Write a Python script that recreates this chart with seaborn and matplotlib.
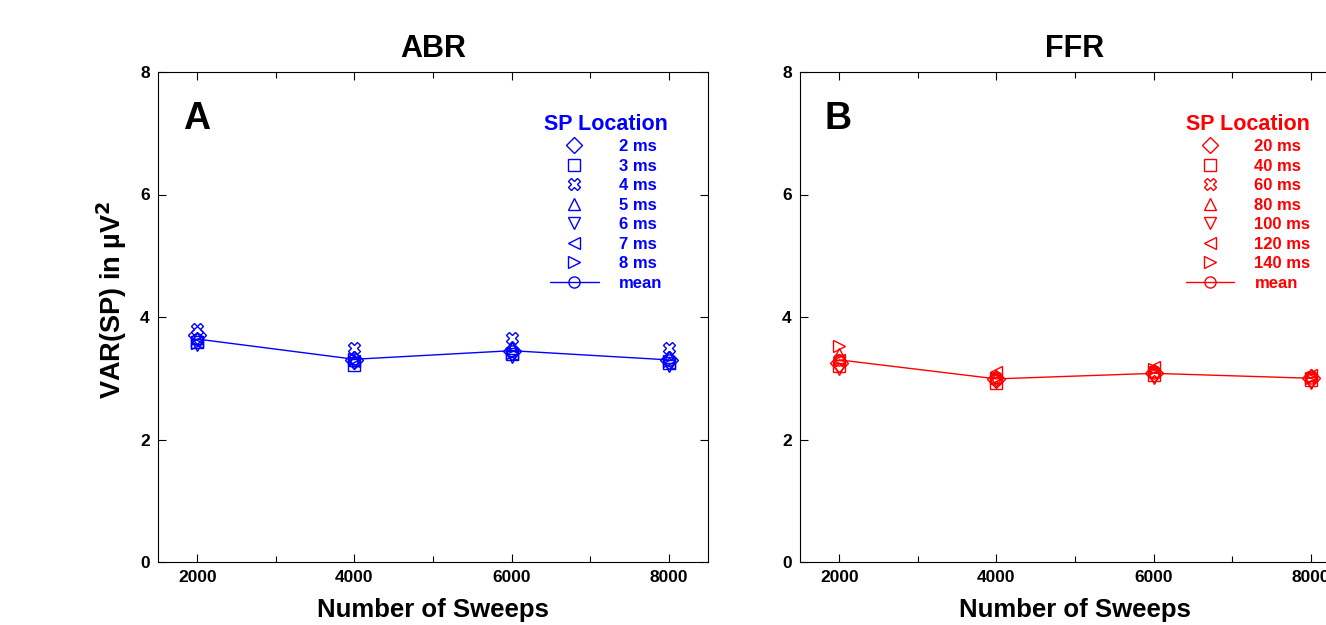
import matplotlib
matplotlib.use("Agg")
import matplotlib.pyplot as plt
from matplotlib.lines import Line2D
from matplotlib.ticker import FixedLocator
import seaborn as sns
import pandas as pd

sns.set_theme(style="white")
plt.rcParams['font.family'] = ['Liberation Sans', 'DejaVu Sans']
plt.rcParams['font.weight'] = 'bold'
for k in ['text.color', 'axes.labelcolor', 'xtick.color', 'ytick.color', 'axes.edgecolor']:
    plt.rcParams[k] = 'black'

sweeps = [2000, 4000, 6000, 8000]

abr_labels = ["2 ms", "3 ms", "4 ms", "5 ms", "6 ms", "7 ms", "8 ms"]
abr_2ms = [3.70, 3.30, 3.45, 3.30]
abr_3ms = [3.60, 3.22, 3.40, 3.25]
abr_4ms = [3.80, 3.50, 3.65, 3.50]
abr_5ms = [3.65, 3.30, 3.50, 3.35]
abr_6ms = [3.55, 3.25, 3.35, 3.20]
abr_7ms = [3.60, 3.28, 3.40, 3.25]
abr_8ms = [3.58, 3.32, 3.42, 3.28]
abr_mean = [3.64, 3.31, 3.45, 3.30]

ffr_labels = ["20 ms", "40 ms", "60 ms", "80 ms", "100 ms", "120 ms", "140 ms"]
ffr_20ms = [3.25, 2.98, 3.08, 3.00]
ffr_40ms = [3.20, 2.92, 3.05, 2.97]
ffr_60ms = [3.30, 3.00, 3.10, 3.02]
ffr_80ms = [3.40, 3.02, 3.12, 3.05]
ffr_100ms = [3.15, 2.95, 3.00, 2.93]
ffr_120ms = [3.30, 3.10, 3.18, 3.05]
ffr_140ms = [3.52, 3.00, 3.15, 3.00]
ffr_mean = [3.30, 2.99, 3.08, 3.00]

markers = ['D', 's', 'X', '^', 'v', '<', '>']
abr_series = [abr_2ms, abr_3ms, abr_4ms, abr_5ms, abr_6ms, abr_7ms, abr_8ms]
ffr_series = [ffr_20ms, ffr_40ms, ffr_60ms, ffr_80ms, ffr_100ms, ffr_120ms, ffr_140ms]

W, H = 1326, 625
fig = plt.figure(figsize=(W / 100, H / 100), dpi=100)
axA = fig.add_axes([158 / W, 1 - 562 / H, 550 / W, 490 / H])
axB = fig.add_axes([800 / W, 1 - 562 / H, 550 / W, 490 / H])


def panel(ax, series, labels, mean, color, title, letter):
    for vals, m, lab in zip(series, markers, labels):
        df = pd.DataFrame({"sweeps": sweeps, "var": vals})
        sns.lineplot(data=df, x="sweeps", y="var", ax=ax, marker=m, linestyle='none',
                     mfc='none', mec=color, mew=1.0, ms=9, color=color)
    dfm = pd.DataFrame({"sweeps": sweeps, "var": mean})
    sns.lineplot(data=dfm, x="sweeps", y="var", ax=ax, marker='o', mfc='none',
                 mec=color, mew=1.0, ms=8, color=color, lw=1.0)
    ax.set_xlim(1500, 8500)
    ax.set_ylim(0, 8)
    ax.set_xticks(sweeps)
    ax.xaxis.set_minor_locator(FixedLocator([3000, 5000, 7000]))
    ax.set_yticks([0, 2, 4, 6, 8])
    ax.tick_params(axis='both', which='both', direction='in', top=True, right=True,
                   bottom=True, left=True, color='black', width=0.8)
    ax.tick_params(axis='both', which='major', length=6, labelsize=12.5, pad=6,
                   labelcolor='black')
    ax.tick_params(axis='both', which='minor', length=4)
    for lbl in ax.get_xticklabels() + ax.get_yticklabels():
        lbl.set_fontweight('bold')
    for s in ax.spines.values():
        s.set_color('black')
        s.set_linewidth(0.8)
    ax.set_xlabel("Number of Sweeps", fontsize=18.5, fontweight='bold', labelpad=9,
                  color='black')
    ax.set_ylabel("")
    ax.set_title(title, fontsize=22, fontweight='bold', pad=11, color='black')
    ax.text(0.045, 0.905, letter, transform=ax.transAxes, fontsize=27,
            fontweight='bold', va='center', ha='left', color='black')
    handles = [Line2D([], [], marker=m, linestyle='none', mfc='none', mec=color,
                      mew=1.0, ms=8) for m in markers]
    handles.append(Line2D([], [], marker='o', linestyle='-', color=color, mfc='none',
                          mec=color, mew=1.0, ms=8, lw=1.0))
    leg = ax.legend(handles, labels + ["mean"], title="SP Location", loc='upper left',
                    bbox_to_anchor=(0.702, 0.915), frameon=False, labelcolor=color,
                    prop={'weight': 'bold', 'size': 12}, handlelength=2.9,
                    handletextpad=1.2, labelspacing=0.27, borderpad=0.0,
                    borderaxespad=0.0,
                    title_fontproperties={'weight': 'bold', 'size': 15.5})
    leg.get_title().set_color(color)


panel(axA, abr_series, abr_labels, abr_mean, '#0000ff', "ABR", "A")
panel(axB, ffr_series, ffr_labels, ffr_mean, '#ff0000', "FFR", "B")
axA.set_ylabel("VAR(SP) in µV$^\\mathbf{2}$", fontsize=19.5, fontweight='bold',
               color='black')
axA.yaxis.set_label_coords(-0.052, 0.535)

fig.savefig("out.png", dpi=100)
